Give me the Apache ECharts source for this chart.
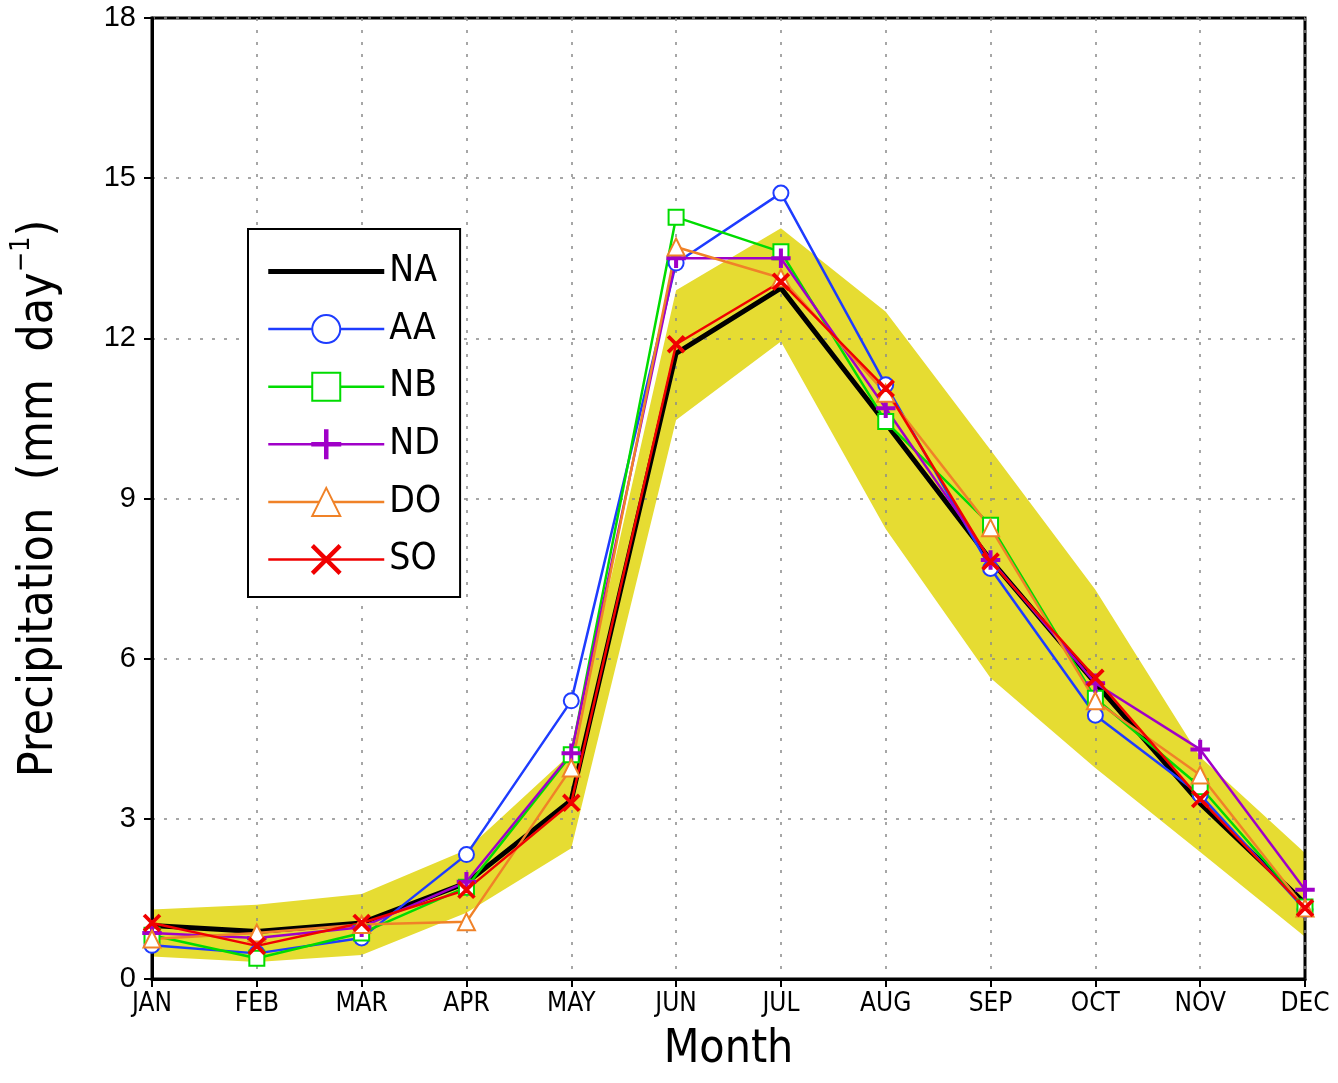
<!DOCTYPE html>
<html>
<head>
<meta charset="utf-8">
<title>Monthly precipitation</title>
<script src="https://cdn.jsdelivr.net/npm/echarts@6/dist/echarts.min.js"></script>
<style>
  html, body { margin: 0; padding: 0; background: #fff; }
  #chart { width: 1338px; height: 1083px; }
</style>
</head>
<body>
<div id="chart"></div>
<script>
// Monthly climatology of precipitation (mm/day)
const months = ['JAN', 'FEB', 'MAR', 'APR', 'MAY', 'JUN', 'JUL', 'AUG', 'SEP', 'OCT', 'NOV', 'DEC'];
const yTicks = [0, 3, 6, 9, 12, 15, 18];

// spread envelope (shaded band)
const bandLower = [0.42, 0.32, 0.45, 1.24, 2.45, 10.47, 11.94, 8.43, 5.64, 3.95, 2.38, 0.79];
const bandUpper = [1.30, 1.39, 1.59, 2.42, 4.23, 12.90, 14.06, 12.50, 9.91, 7.29, 4.16, 2.36];

const NA = [1.00, 0.89, 1.05, 1.80, 3.35, 11.72, 12.94, 10.41, 7.85, 5.54, 3.29, 1.42];
const AA = [0.63, 0.48, 0.77, 2.33, 5.21, 13.41, 14.72, 11.13, 7.69, 4.94, 3.45, 1.30];
const NB = [0.82, 0.39, 0.86, 1.72, 4.20, 14.27, 13.62, 10.44, 8.50, 5.26, 3.60, 1.35];
const ND = [0.86, 0.77, 0.97, 1.82, 4.23, 13.50, 13.50, 10.69, 7.85, 5.54, 4.30, 1.67];
const DO = [0.75, 0.86, 1.02, 1.07, 3.95, 13.71, 13.13, 10.97, 8.45, 5.21, 3.82, 1.33];
const SO = [1.05, 0.62, 1.05, 1.67, 3.30, 11.89, 13.06, 11.06, 7.82, 5.64, 3.37, 1.33];

// thin plus and diagonal cross markers
const PLUS = 'path://M9.1,0 H10.9 V9.1 H20 V10.9 H10.9 V20 H9.1 V10.9 H0 V9.1 H9.1 Z';
const CROSS = 'path://M1.2,0 L10,8.8 L18.8,0 L20,1.2 L11.2,10 L20,18.8 L18.8,20 L10,11.2 L1.2,20 L0,18.8 L8.8,10 L0,1.2 Z';

const condensed = "'DejaVu Sans Condensed', 'DejaVu Sans', sans-serif";
const gridDots = { color: '#8a8a8a', width: 1.5, type: [3, 9] };

function member(name, data, color, symbol, size) {
  return {
    name: name, type: 'line', data: data, z: 3,
    symbol: symbol, symbolSize: size, showAllSymbol: true,
    lineStyle: { color: color, width: 2.5 },
    itemStyle: { color: color, borderColor: color, borderWidth: 2.5 }
  };
}

const bandRange = bandUpper.map((v, i) => +(v - bandLower[i]).toFixed(2));

const chart = echarts.init(document.getElementById('chart'), null, { renderer: 'canvas' });
chart.setOption({
  animation: false,
  backgroundColor: '#fff',
  grid: {
    left: 152, right: 33, top: 18, bottom: 104,
    show: true, borderColor: '#000', borderWidth: 3, backgroundColor: 'transparent'
  },
  legend: {
    orient: 'vertical',
    left: 248, top: 229,
    padding: [24, 19, 19, 19],
    itemWidth: 116, itemHeight: 35, itemGap: 20.6,
    backgroundColor: '#fff',
    borderColor: '#000', borderWidth: 2,
    lineStyle: { width: 2.5 },
    textStyle: { fontFamily: condensed, fontSize: 37, color: '#000', lineHeight: 35 },
    data: [
      { name: 'NA', icon: 'path://M0,0 H100 V4.5 H0 Z' },
      'AA', 'NB', 'ND', 'DO', 'SO'
    ]
  },
  xAxis: {
    type: 'category', data: months, boundaryGap: false,
    name: 'Month', nameLocation: 'middle', nameGap: 48,
    nameTextStyle: { fontFamily: condensed, fontSize: 46, color: '#000', verticalAlign: 'top' },
    axisLine: { lineStyle: { color: '#000', width: 3 } },
    axisTick: { show: true, length: 8, lineStyle: { color: '#000', width: 2 } },
    axisLabel: { fontFamily: condensed, fontSize: 26, color: '#000', margin: 12 },
    splitLine: { show: true, lineStyle: gridDots }
  },
  yAxis: {
    type: 'value', min: yTicks[0], max: yTicks[yTicks.length - 1], interval: 3,
    name: '{a|Precipitation  (mm  day}{b|−1}{a|)}',
    nameLocation: 'middle', nameGap: 88, nameRotate: 90,
    nameTextStyle: {
      rich: {
        a: { fontFamily: condensed, fontSize: 48, color: '#000', lineHeight: 56, verticalAlign: 'bottom' },
        b: { fontFamily: condensed, fontSize: 27, color: '#000', lineHeight: 56, verticalAlign: 'top', padding: [0, 0, 14, 0] }
      }
    },
    axisLine: { show: true, lineStyle: { color: '#000', width: 3 } },
    axisTick: { show: true, length: 8, lineStyle: { color: '#000', width: 2 } },
    axisLabel: { fontFamily: "'Liberation Sans', Arial, sans-serif", fontSize: 29, color: '#000', margin: 16 },
    splitLine: { show: true, lineStyle: gridDots }
  },
  series: [
    {
      name: 'bandLow', type: 'line', data: bandLower, stack: 'band', z: -1,
      symbol: 'none', lineStyle: { opacity: 0 }, silent: true
    },
    {
      name: 'bandRange', type: 'line', data: bandRange, stack: 'band', z: -1,
      symbol: 'none', lineStyle: { opacity: 0 }, silent: true,
      areaStyle: { color: '#E6DC32', opacity: 1 }
    },
    {
      name: 'NA', type: 'line', data: NA, z: 2,
      symbol: 'none', lineStyle: { color: '#000', width: 5 }, itemStyle: { color: '#000' }
    },
    member('AA', AA, '#1E3CFF', 'emptyCircle', 15),
    member('NB', NB, '#00DC00', 'emptyRect', 15),
    member('ND', ND, '#A000C8', PLUS, 17),
    member('DO', DO, '#F08228', 'emptyTriangle', 17),
    member('SO', SO, '#F00000', CROSS, 15)
  ]
});
</script>
</body>
</html>
